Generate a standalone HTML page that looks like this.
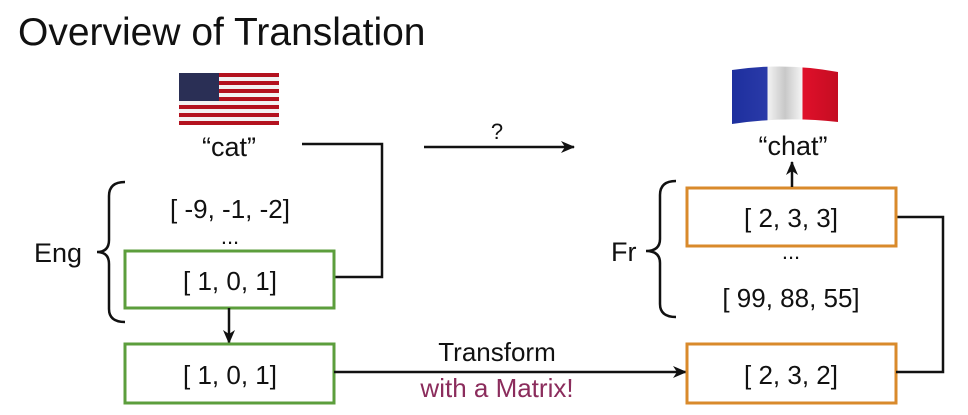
<!DOCTYPE html>
<html><head><meta charset="utf-8"><style>
html,body{margin:0;padding:0;background:#fff;}
svg{display:block;font-family:"Liberation Sans",sans-serif;}
</style></head><body>
<svg width="968" height="415" viewBox="0 0 968 415">
<defs>
<marker id="ah" markerWidth="14" markerHeight="14" refX="13" refY="6" orient="auto" markerUnits="userSpaceOnUse"><path d="M0,0 L14,6 L0,12 L4,6 Z" fill="#111"/></marker>
<linearGradient id="fr" x1="0" x2="1"><stop offset="0" stop-color="#1d2f9e"/><stop offset="0.33" stop-color="#2a3aa8"/><stop offset="0.34" stop-color="#f2f2f2"/><stop offset="0.5" stop-color="#c8c8c8"/><stop offset="0.66" stop-color="#f4f4f4"/><stop offset="0.67" stop-color="#e0102a"/><stop offset="1" stop-color="#c40d22"/></linearGradient>
</defs>
<text x="18" y="45" font-size="39" fill="#111">Overview of Translation</text>

<g>
<rect x="179" y="73" width="100" height="52" fill="#f2f2f2"/>
<g fill="#b3121f">
<rect x="179" y="73" width="100" height="4"/><rect x="179" y="81" width="100" height="4"/><rect x="179" y="89" width="100" height="4"/><rect x="179" y="97" width="100" height="4"/><rect x="179" y="105" width="100" height="4"/><rect x="179" y="113" width="100" height="4"/><rect x="179" y="121" width="100" height="4"/>
</g>
<rect x="179" y="73" width="40" height="28" fill="#2a2f55"/>
</g>
<text x="229" y="156" font-size="27" text-anchor="middle" fill="#111">“cat”</text>

<g><path d="M732,70 Q785,62 838,72 L838,122 Q785,116 732,124 Z" fill="url(#fr)"/></g>
<text x="793" y="155" font-size="27" text-anchor="middle" fill="#111">“chat”</text>

<line x1="424" y1="147" x2="574" y2="147" stroke="#111" stroke-width="2.5" marker-end="url(#ah)"/>
<text x="497" y="139" font-size="22" text-anchor="middle" fill="#111">?</text>

<polyline points="302,144 382,144 382,277 334,277" fill="none" stroke="#111" stroke-width="2.5"/>

<path d="M125,182 Q109,182 109,196 L109,240 Q109,252 97,252 Q109,252 109,264 L109,309 Q109,322 125,322" fill="none" stroke="#111" stroke-width="2.5"/>
<text x="34" y="262" font-size="27" fill="#111">Eng</text>
<text x="230" y="218" font-size="26" text-anchor="middle" fill="#111">[ -9, -1, -2]</text>
<text x="230" y="244" font-size="22" text-anchor="middle" fill="#111">...</text>
<rect x="125" y="251" width="209" height="57" fill="none" stroke="#5c9e3c" stroke-width="3"/>
<text x="230" y="290" font-size="26" text-anchor="middle" fill="#111">[ 1, 0, 1]</text>

<line x1="229" y1="308" x2="229" y2="343" stroke="#111" stroke-width="2.5" marker-end="url(#ah)"/>
<rect x="125" y="344" width="209" height="59" fill="none" stroke="#5c9e3c" stroke-width="3"/>
<text x="230" y="384" font-size="26" text-anchor="middle" fill="#111">[ 1, 0, 1]</text>

<line x1="334" y1="372" x2="686" y2="372" stroke="#111" stroke-width="2.5" marker-end="url(#ah)"/>
<text x="497" y="361" font-size="26" text-anchor="middle" fill="#111">Transform</text>
<text x="497" y="397" font-size="26" text-anchor="middle" fill="#8b2c5c">with a Matrix!</text>

<rect x="687" y="344" width="209" height="59" fill="none" stroke="#d98a2b" stroke-width="3"/>
<text x="791" y="384" font-size="26" text-anchor="middle" fill="#111">[ 2, 3, 2]</text>

<polyline points="896,372 943,372 943,217 896,217" fill="none" stroke="#111" stroke-width="2.5"/>

<path d="M676,181 Q660,181 660,195 L660,239 Q660,251 646,251 Q660,251 660,263 L660,304 Q660,317 676,317" fill="none" stroke="#111" stroke-width="2.5"/>
<text x="611" y="261" font-size="27" fill="#111">Fr</text>
<rect x="687" y="188" width="209" height="58" fill="none" stroke="#d98a2b" stroke-width="3"/>
<text x="791" y="227" font-size="26" text-anchor="middle" fill="#111">[ 2, 3, 3]</text>
<text x="791" y="259" font-size="22" text-anchor="middle" fill="#111">...</text>
<text x="791" y="307" font-size="26" text-anchor="middle" fill="#111">[ 99, 88, 55]</text>

<line x1="792" y1="187" x2="792" y2="162" stroke="#111" stroke-width="2.5" marker-end="url(#ah)"/>
</svg>
</body></html>
